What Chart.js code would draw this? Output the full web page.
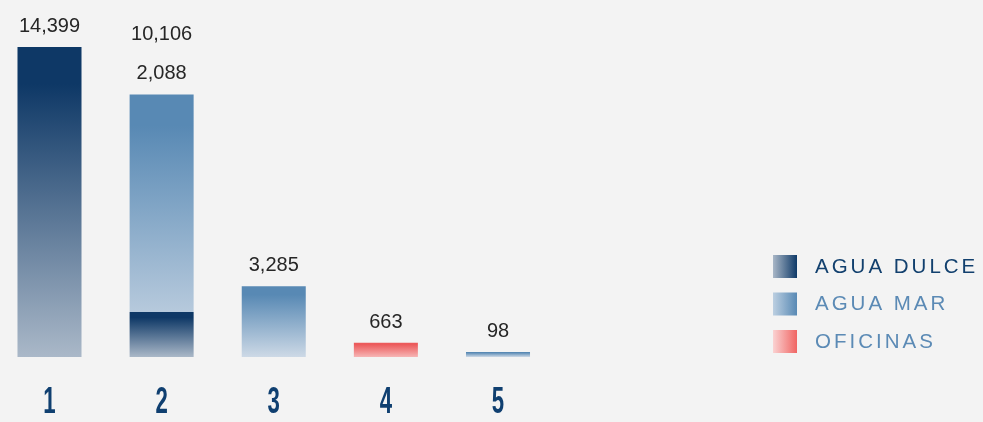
<!DOCTYPE html>
<html>
<head>
<meta charset="utf-8">
<script src="https://cdn.jsdelivr.net/npm/chart.js@4"></script>
<style>
  html, body { margin: 0; padding: 0; background: #f3f3f3; }
  #wrap { position: relative; width: 983px; height: 422px; }
</style>
</head>
<body>
<div id="wrap"><canvas id="chart-water"></canvas></div>
<script>
const categories = ['1', '2', '3', '4', '5'];
const aguaDulce = [14399, 2088, null, null, null];
const aguaMar = [null, 10106, 3285, null, 98];
const oficinas = [null, null, null, 663, null];
const seriesNames = ['AGUA DULCE', 'AGUA MAR', 'OFICINAS'];

// gradient stops per series: [top colour, bottom colour]
const barFills = [
  ['#0e3866', '#aab8c8'],
  ['#5889b4', '#cdd9e6'],
  ['#ec5a5b', '#f6b5b5'],
];
const legendFills = [
  ['#a9b7c7', '#0f3a68'],
  ['#bccfe1', '#5889b4'],
  ['#fad2d2', '#f06563'],
];
const legendText = ['#12406e', '#5b8ab5', '#5b8ab5'];

function barGradient(ctx) {
  const chart = ctx.chart;
  const ds = ctx.datasetIndex;
  const i = ctx.dataIndex;
  if (!chart.chartArea) return barFills[ds][0];
  const y = chart.scales.y;
  let base = 0;
  for (let k = 0; k < ds; k++) base += chart.data.datasets[k].data[i] || 0;
  const v = chart.data.datasets[ds].data[i] || 0;
  // sea water fades down to the axis, the rest fade over their own segment
  const y0 = ds === 1 ? y.getPixelForValue(0) : y.getPixelForValue(base);
  let y1 = y.getPixelForValue(base + v);
  if (y0 - y1 < 5) y1 = y0 - 5;
  const g = chart.ctx.createLinearGradient(0, y1, 0, y0);
  g.addColorStop(0, barFills[ds][0]);
  g.addColorStop(0.12, barFills[ds][0]);
  g.addColorStop(1, barFills[ds][1]);
  return g;
}

const decorations = {
  id: 'decorations',
  afterDatasetsDraw(chart) {
    const { ctx, scales } = chart;
    ctx.save();
    // value labels stacked above each bar
    ctx.font = "20px 'Liberation Sans', Arial, sans-serif";
    ctx.fillStyle = '#262626';
    ctx.textAlign = 'center';
    ctx.textBaseline = 'alphabetic';
    categories.forEach((c, i) => {
      let total = 0;
      const vals = [];
      chart.data.datasets.forEach(d => {
        if (d.data[i] != null) { total += d.data[i]; vals.push(d.data[i]); }
      });
      let top = scales.y.getPixelForValue(total);
      top = Math.min(top, scales.y.getPixelForValue(0) - 5);
      const x = scales.x.getPixelForValue(i);
      vals.forEach((v, k) => {
        ctx.fillText(v.toLocaleString('en-US'), x, top - 15 - k * 39);
      });
    });
    // category numbers, condensed
    ctx.fillStyle = '#0f3f70';
    ctx.font = "bold 37px 'Liberation Sans', Arial, sans-serif";
    categories.forEach((c, i) => {
      const x = scales.x.getPixelForValue(i);
      ctx.save();
      ctx.translate(x, 413);
      ctx.scale(0.6, 1);
      ctx.fillText(c, 0, 0);
      ctx.restore();
    });
    // legend
    ctx.textAlign = 'left';
    ctx.textBaseline = 'middle';
    ctx.font = "20.5px 'Liberation Sans', Arial, sans-serif";
    ctx.letterSpacing = '3px';
    seriesNames.forEach((name, k) => {
      const top = 255 + k * 37.5;
      const g = ctx.createLinearGradient(773, 0, 797, 0);
      g.addColorStop(0, legendFills[k][0]);
      g.addColorStop(1, legendFills[k][1]);
      ctx.fillStyle = g;
      ctx.fillRect(773, top, 24, 23);
      ctx.fillStyle = legendText[k];
      ctx.fillText(name, 815, top + 12);
    });
    ctx.restore();
  }
};

new Chart(document.getElementById('chart-water'), {
  type: 'bar',
  data: {
    labels: categories,
    datasets: [
      { label: seriesNames[0], data: aguaDulce, backgroundColor: barGradient },
      { label: seriesNames[1], data: aguaMar, backgroundColor: barGradient, minBarLength: 5 },
      { label: seriesNames[2], data: oficinas, backgroundColor: barGradient },
    ]
  },
  options: {
    responsive: true,
    maintainAspectRatio: false,
    animation: false,
    clip: false,
    barPercentage: 0.571,
    categoryPercentage: 1,
    layout: { padding: { left: 49.5, right: 485, top: 12.5, bottom: 65 } },
    plugins: { legend: { display: false }, tooltip: { enabled: false } },
    scales: {
      x: { stacked: true, offset: false, display: false },
      y: { stacked: true, display: false, min: 0, max: 16000 }
    }
  },
  plugins: [decorations]
});
</script>
</body>
</html>
